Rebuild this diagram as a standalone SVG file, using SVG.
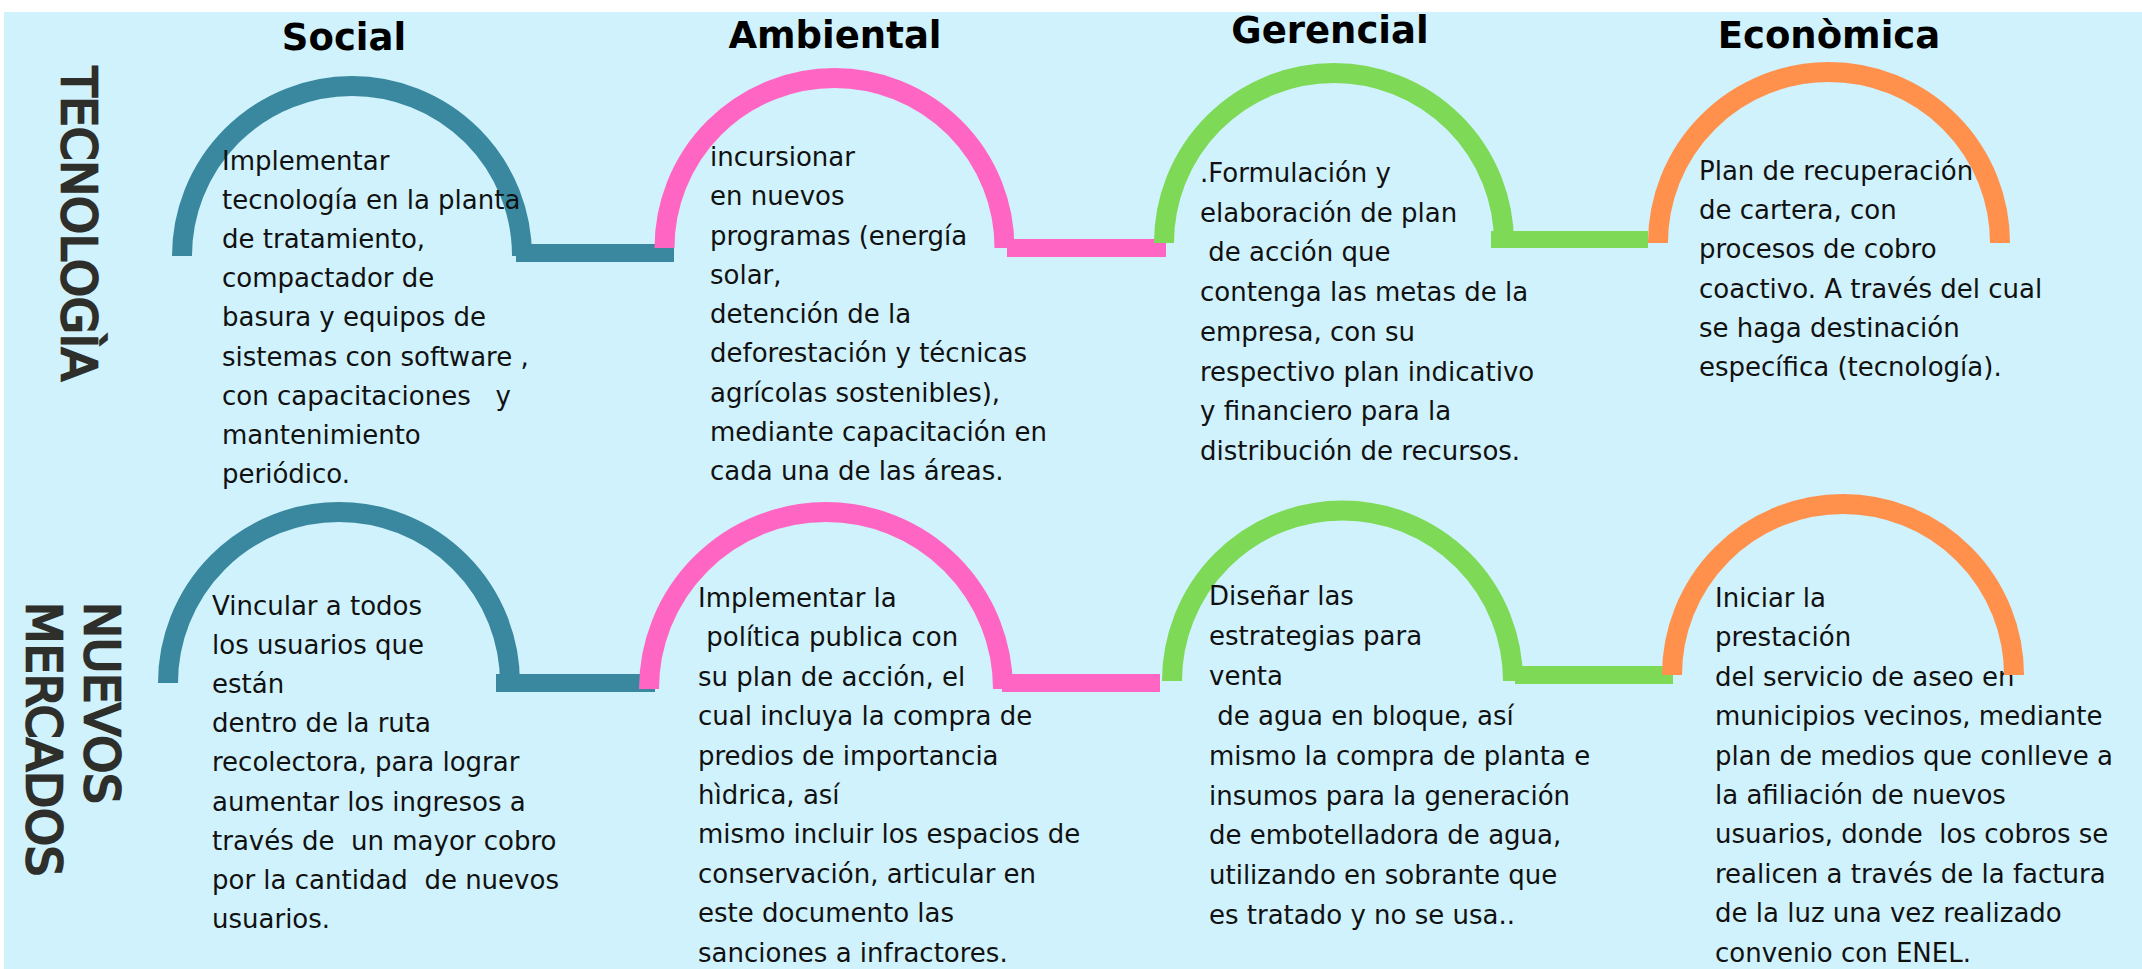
<svg xmlns="http://www.w3.org/2000/svg" width="2142" height="969" viewBox="0 0 2142 969">
<style>
.bg{fill:#D0F2FC}
.title{font-family:"DejaVu Sans",sans-serif;font-weight:bold;font-size:37px;fill:#000;text-anchor:middle}
.side{font-family:"DejaVu Sans",sans-serif;font-size:48px;fill:#2E2E2A;stroke:#2E2E2A;stroke-width:2.6}
.body{font-family:"DejaVu Sans",sans-serif;font-size:26px;fill:#111}
.arc{fill:none;stroke-width:20;stroke-linecap:butt}
.teal{stroke:#3A889F}.pink{stroke:#FF66C4}.green{stroke:#7ED957}.orange{stroke:#FF914D}
.tealf{fill:#3A889F}.pinkf{fill:#FF66C4}.greenf{fill:#7ED957}
</style>
<rect class="bg" x="4" y="12" width="2138" height="957"/>

<g id="titles">
<text class="title" x="344" y="50">Social</text>
<text class="title" x="835" y="48">Ambiental</text>
<text class="title" x="1330" y="43">Gerencial</text>
<text class="title" x="1829" y="48">Econòmica</text>
</g>

<g id="row-labels">
<text class="side" transform="translate(62,67) rotate(90)" x="0" y="0">TECNOLOGÌA</text>
<text class="side" transform="translate(85,602) rotate(90)" x="0" y="0">NUEVOS</text>
<text class="side" transform="translate(27,602) rotate(90)" x="0" y="0">MERCADOS</text>
</g>

<g id="connectors">
<rect class="tealf" x="516" y="244" width="158" height="18"/>
<rect class="pinkf" x="1007" y="239" width="159" height="18"/>
<rect class="greenf" x="1491" y="231" width="157" height="17"/>
<rect class="tealf" x="496" y="674" width="159" height="18"/>
<rect class="pinkf" x="1002" y="674" width="158" height="18"/>
<rect class="greenf" x="1515" y="666" width="158" height="18"/>
</g>

<g id="tec-social">
<path class="arc teal" d="M182,256 A170,170 0 0 1 522,256"/>
<text class="body" xml:space="preserve"><tspan x="222" y="170">Implementar</tspan><tspan x="222" y="209.1">tecnología en la planta</tspan><tspan x="222" y="248.2">de tratamiento,</tspan><tspan x="222" y="287.3">compactador de</tspan><tspan x="222" y="326.4">basura y equipos de</tspan><tspan x="222" y="365.5">sistemas con software ,</tspan><tspan x="222" y="404.6">con capacitaciones   y</tspan><tspan x="222" y="443.7">mantenimiento</tspan><tspan x="222" y="482.8">periódico.</tspan></text>
</g>

<g id="tec-ambiental">
<path class="arc pink" d="M664.5,248 A170,170 0 0 1 1004.5,248"/>
<text class="body" xml:space="preserve"><tspan x="710" y="166">incursionar</tspan><tspan x="710" y="205.25">en nuevos</tspan><tspan x="710" y="244.5">programas (energía</tspan><tspan x="710" y="283.75">solar,</tspan><tspan x="710" y="323">detención de la</tspan><tspan x="710" y="362.25">deforestación y técnicas</tspan><tspan x="710" y="401.5">agrícolas sostenibles),</tspan><tspan x="710" y="440.75">mediante capacitación en</tspan><tspan x="710" y="480">cada una de las áreas.</tspan></text>
</g>

<g id="tec-gerencial">
<path class="arc green" d="M1164,243 A170,170 0 0 1 1504,243"/>
<text class="body" xml:space="preserve"><tspan x="1200" y="182">.Formulación y</tspan><tspan x="1200" y="221.7">elaboración de plan</tspan><tspan x="1200" y="261.4"> de acción que</tspan><tspan x="1200" y="301.1">contenga las metas de la</tspan><tspan x="1200" y="340.8">empresa, con su</tspan><tspan x="1200" y="380.5">respectivo plan indicativo</tspan><tspan x="1200" y="420.2">y financiero para la</tspan><tspan x="1200" y="459.9">distribución de recursos.</tspan></text>
</g>

<g id="tec-economica">
<text class="body" xml:space="preserve"><tspan x="1699" y="180">Plan de recuperación</tspan><tspan x="1699" y="219.2">de cartera, con</tspan><tspan x="1699" y="258.4">procesos de cobro</tspan><tspan x="1699" y="297.6">coactivo. A través del cual</tspan><tspan x="1699" y="336.8">se haga destinación</tspan><tspan x="1699" y="376">específica (tecnología).</tspan></text>
<path class="arc orange" d="M1658,243 A171,171 0 0 1 2000,243"/>
</g>

<g id="nm-social">
<path class="arc teal" d="M168,683 A171,171 0 0 1 510,683"/>
<text class="body" xml:space="preserve"><tspan x="212" y="615">Vincular a todos</tspan><tspan x="212" y="654.1">los usuarios que</tspan><tspan x="212" y="693.2">están</tspan><tspan x="212" y="732.3">dentro de la ruta</tspan><tspan x="212" y="771.4">recolectora, para lograr</tspan><tspan x="212" y="810.5">aumentar los ingresos a</tspan><tspan x="212" y="849.6">través de  un mayor cobro</tspan><tspan x="212" y="888.7">por la cantidad  de nuevos</tspan><tspan x="212" y="927.8">usuarios.</tspan></text>
</g>

<g id="nm-ambiental">
<path class="arc pink" d="M649,689 A177,177 0 0 1 1003,689"/>
<text class="body" xml:space="preserve"><tspan x="698" y="607">Implementar la</tspan><tspan x="698" y="646.4"> política publica con</tspan><tspan x="698" y="685.8">su plan de acción, el</tspan><tspan x="698" y="725.2">cual incluya la compra de</tspan><tspan x="698" y="764.6">predios de importancia</tspan><tspan x="698" y="804">hìdrica, así</tspan><tspan x="698" y="843.4">mismo incluir los espacios de</tspan><tspan x="698" y="882.8">conservación, articular en</tspan><tspan x="698" y="922.2">este documento las</tspan><tspan x="698" y="961.6">sanciones a infractores.</tspan></text>
</g>

<g id="nm-gerencial">
<path class="arc green" d="M1172,681 A170.5,170.5 0 0 1 1513,681"/>
<text class="body" xml:space="preserve"><tspan x="1209" y="605">Diseñar las</tspan><tspan x="1209" y="644.9">estrategias para</tspan><tspan x="1209" y="684.8">venta</tspan><tspan x="1209" y="724.7"> de agua en bloque, así</tspan><tspan x="1209" y="764.6">mismo la compra de planta e</tspan><tspan x="1209" y="804.5">insumos para la generación</tspan><tspan x="1209" y="844.4">de embotelladora de agua,</tspan><tspan x="1209" y="884.3">utilizando en sobrante que</tspan><tspan x="1209" y="924.2">es tratado y no se usa..</tspan></text>
</g>

<g id="nm-economica">
<text class="body" xml:space="preserve"><tspan x="1715" y="607">Iniciar la</tspan><tspan x="1715" y="646.4">prestación</tspan><tspan x="1715" y="685.8">del servicio de aseo en</tspan><tspan x="1715" y="725.2">municipios vecinos, mediante</tspan><tspan x="1715" y="764.6">plan de medios que conlleve a</tspan><tspan x="1715" y="804">la afiliación de nuevos</tspan><tspan x="1715" y="843.4">usuarios, donde  los cobros se</tspan><tspan x="1715" y="882.8">realicen a través de la factura</tspan><tspan x="1715" y="922.2">de la luz una vez realizado</tspan><tspan x="1715" y="961.6">convenio con ENEL.</tspan></text>
<path class="arc orange" d="M1672,675 A171,171 0 0 1 2014,675"/>
</g>
</svg>
